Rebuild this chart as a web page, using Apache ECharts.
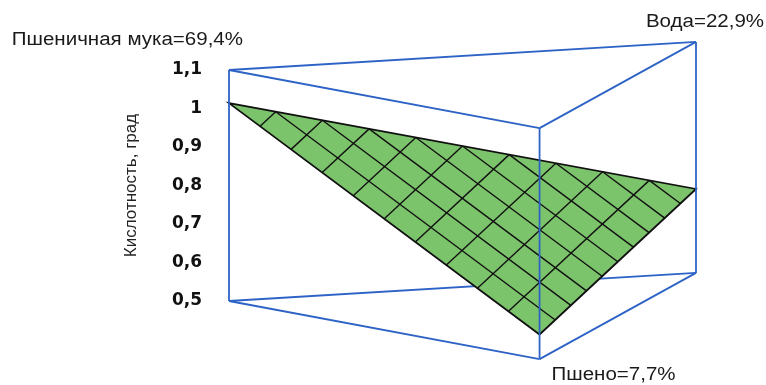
<!DOCTYPE html>
<html>
<head>
<meta charset="utf-8">
<script src="https://cdn.jsdelivr.net/npm/echarts@6/dist/echarts.min.js"></script>
<style>
  html, body { margin: 0; padding: 0; background: #ffffff; }
  #chart { width: 766px; height: 385px; }
</style>
</head>
<body>
<div id="chart"></div>
<script>
// Mixture components (corners of the simplex) and their labels
const components = ['Пшеничная мука', 'Пшено', 'Вода'];
const componentShares = ['69,4%', '7,7%', '22,9%'];
// Acidity predicted at each pure component (linear mixture model)
const vertexAcidity = [1.014, 0.564, 0.718];
// Value axis range and ticks
const acidityTicks = [0.5, 0.6, 0.7, 0.8, 0.9, 1.0, 1.1];
const acidityMin = 0.5;
const acidityMax = 1.1;
// Mesh density on the response surface
const meshDivisions = 10;

// Oblique projection of the base triangle: horizontal position on the
// hidden x axis and vertical lift expressed in value-axis units
const cornerU = [0, 0.665, 1];
const cornerLift = [0, -0.151, 0.073];

const chart = echarts.init(document.getElementById('chart'), null, { renderer: 'canvas' });

function project(api, w, z) {
  let u = 0, lift = 0;
  for (let i = 0; i < 3; i++) { u += w[i] * cornerU[i]; lift += w[i] * cornerLift[i]; }
  return api.coord([u, z + lift]);
}
function surfacePoint(api, w) {
  let z = 0;
  for (let i = 0; i < 3; i++) z += w[i] * vertexAcidity[i];
  return project(api, w, z);
}
const unit = [[1, 0, 0], [0, 1, 0], [0, 0, 1]];

const frameColor = '#2d63c6';
const frameStyle = { stroke: frameColor, lineWidth: 1.8, fill: null };

function renderPrism(params, api) {
  const top = unit.map(w => project(api, w, acidityMax));
  const bot = unit.map(w => project(api, w, acidityMin));
  const seg = (p, q) => ({ type: 'line', shape: { x1: p[0], y1: p[1], x2: q[0], y2: q[1] }, style: frameStyle });
  const children = [];
  // hidden rear bottom edge, drawn under the surface
  children.push(seg(bot[0], bot[2]));

  // response surface
  const S = unit.map(w => surfacePoint(api, w));
  children.push({
    type: 'polygon',
    shape: { points: S },
    style: { fill: '#7cc46b', stroke: '#111', lineWidth: 1.8 }
  });
  for (let k = 1; k < meshDivisions; k++) {
    const a = k / meshDivisions;
    // constant share of component 0
    const p1 = surfacePoint(api, [a, 0, 1 - a]);
    const p2 = surfacePoint(api, [a, 1 - a, 0]);
    children.push({ type: 'line', shape: { x1: p1[0], y1: p1[1], x2: p2[0], y2: p2[1] },
      style: { stroke: '#111', lineWidth: 1.4 } });
    // constant share of component 2
    const q1 = surfacePoint(api, [1 - a, 0, a]);
    const q2 = surfacePoint(api, [0, 1 - a, a]);
    children.push({ type: 'line', shape: { x1: q1[0], y1: q1[1], x2: q2[0], y2: q2[1] },
      style: { stroke: '#111', lineWidth: 1.4 } });
  }

  // remaining frame edges
  for (let i = 0; i < 3; i++) children.push(seg(top[i], bot[i]));
  children.push(seg(top[0], top[1]), seg(top[1], top[2]), seg(top[0], top[2]));
  children.push(seg(bot[0], bot[1]), seg(bot[1], bot[2]));

  // corner captions
  const labelFont = { fontFamily: 'Liberation Sans, Arial, sans-serif', fontSize: 18, fill: '#1a1a1a' };
  const caption = (i, anchor, dx, dy, align) => ({
    type: 'text',
    x: anchor[0] + dx, y: anchor[1] + dy,
    scaleX: 1.14,
    style: Object.assign({ text: components[i] + '=' + componentShares[i], align: align, verticalAlign: 'middle' }, labelFont)
  });
  children.push(caption(0, top[0], 14, -30, 'right'));
  children.push(caption(2, top[2], 9, -19.5, 'center'));
  children.push(caption(1, bot[1], 74, 16, 'center'));

  return { type: 'group', children: children };
}

chart.setOption({
  animation: false,
  backgroundColor: '#ffffff',
  grid: { left: 229, right: 70, top: 70, bottom: 84 },
  xAxis: { type: 'value', min: 0, max: 1, show: false },
  yAxis: {
    type: 'value',
    min: acidityMin,
    max: acidityMax,
    interval: 0.1,
    name: 'Кислотность, град',
    nameLocation: 'middle',
    nameRotate: 90,
    nameGap: 89,
    nameTextStyle: { fontFamily: 'Liberation Sans, Arial, sans-serif', fontSize: 17, color: '#222' },
    axisLine: { show: false },
    axisTick: { show: false },
    splitLine: { show: false },
    axisLabel: {
      margin: 27,
      fontFamily: 'DejaVu Sans, sans-serif',
      fontWeight: 'bold',
      fontSize: 17,
      color: '#111',
      customValues: acidityTicks,
      formatter: v => String(Math.round(v * 10) / 10).replace('.', ',')
    }
  },
  series: [{
    type: 'custom',
    clip: false,
    silent: true,
    data: [[0, acidityMin]],
    renderItem: renderPrism
  }]
});
</script>
</body>
</html>
